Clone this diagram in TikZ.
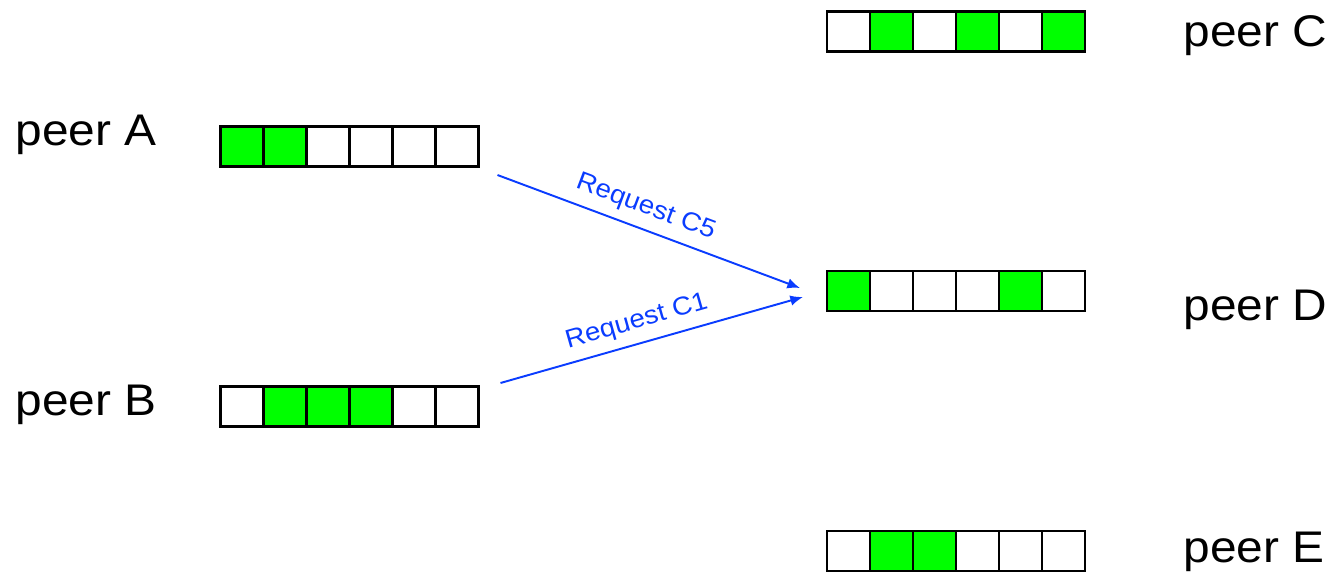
\documentclass[tikz,border=0pt]{standalone}
\usepackage{fontspec}
\setmainfont{Liberation Sans}
\newfontfamily\widesans[FakeStretch=1.08]{Liberation Sans}
\usetikzlibrary{calc,arrows.meta}
\definecolor{chunkgreen}{HTML}{00FF00}
\definecolor{reqblue}{HTML}{0A3CFF}

% one bar of six chunk cells: name prefix, left x, centre y, fill list
\newcommand\chunkbar[4]{%
  \foreach \s [count=\i] in {#4} {
    \node[cell, fill=\s] (#1\i) at ({#2+43*(\i-0.5)},#3) {};
  }%
}

\begin{document}
\begin{tikzpicture}[x=0.01cm,y=-0.01cm,
  cell/.style={draw=black, line width=0.6pt, minimum width=0.43cm,
    minimum height=0.40cm, inner sep=0pt, outer sep=0pt},
  peerlabel/.style={font=\widesans\fontsize{12.6}{15}\selectfont, inner sep=0pt,
    anchor=base west},
  request/.style={draw=reqblue, line width=0.55pt,
    -{Latex[length=3.6pt,width=3pt]}},
  reqlabel/.style={font=\widesans\fontsize{7.3}{8}\selectfont, text=reqblue,
    sloped, above=2.5pt, inner sep=0pt}]

\useasboundingbox (0,0) rectangle (1332,572);

% chunk maps of the five peers
\chunkbar{A}{220.5}{146.5}{chunkgreen,chunkgreen,white,white,white,white}
\chunkbar{B}{220.5}{406.5}{white,chunkgreen,chunkgreen,chunkgreen,white,white}
\chunkbar{C}{827}{31.5}{white,chunkgreen,white,chunkgreen,white,chunkgreen}
\chunkbar{D}{827}{291}{chunkgreen,white,white,white,chunkgreen,white}
\chunkbar{E}{827}{551}{white,chunkgreen,chunkgreen,white,white,white}

% peer names
\node[peerlabel] (nameA) at (15,145) {peer A};
\node[peerlabel] (nameB) at (15,415) {peer B};
\node[peerlabel] (nameC) at (1183,46) {peer C};
\node[peerlabel] (nameD) at (1183,320) {peer D};
\node[peerlabel] (nameE) at (1183,562) {peer E};

% request arrows towards peer D
\coordinate (a-out) at ($(A6.south east)+(19,8.5)$);
\coordinate (b-out) at ($(B6.north east)+(22,-3.5)$);
\coordinate (d-in1) at ($(D1.west)+(-27,-3)$);
\coordinate (d-in2) at ($(D1.west)+(-24,6)$);

\draw[request] (a-out) -- node[reqlabel, pos=0.465] {Request C5} (d-in1);
\draw[request] (b-out) -- node[reqlabel, pos=0.47] {Request C1} (d-in2);
\end{tikzpicture}
\end{document}
